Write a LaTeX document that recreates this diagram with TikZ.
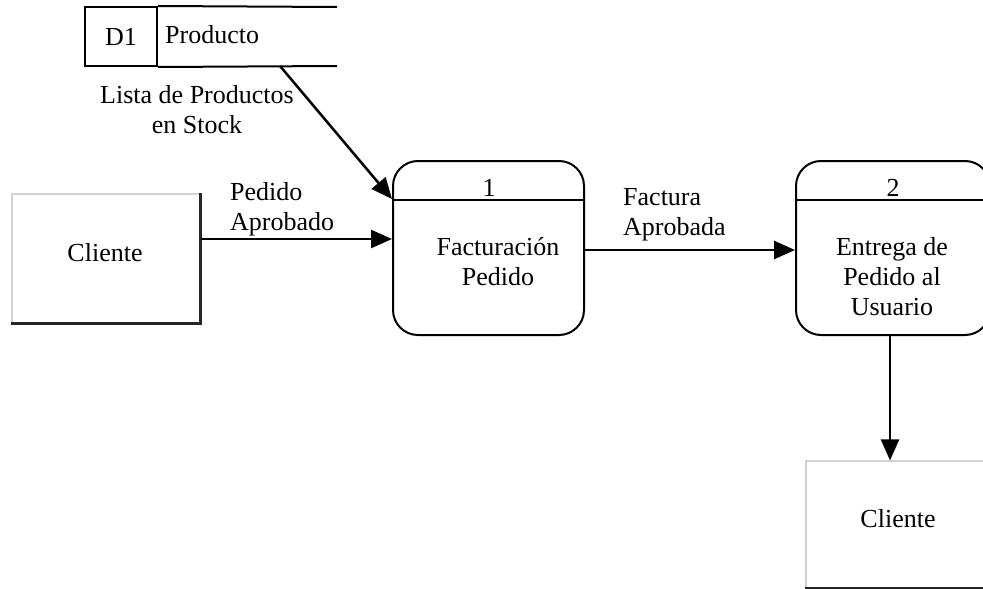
\documentclass[tikz,border=0pt]{standalone}
\usepackage{fontspec}
\setmainfont{Liberation Serif}
\usetikzlibrary{arrows.meta}
\begin{document}
\begin{tikzpicture}[x=1pt,y=-1pt,
  every node/.style={font=\fontsize{26}{30}\selectfont, inner sep=0pt},
  proc/.style={draw, line width=2pt, rounded corners=25pt, minimum height=174pt},
  entbox/.style={draw=gray!35, line width=1.2pt},
  shadowline/.style={draw=black!85, line width=2.6pt},
  storeline/.style={line width=2pt},
  flow/.style={line width=2.5pt, -{Triangle[length=21pt,width=18pt]}},
  lbl/.style={align=center}]
\useasboundingbox (0,0) rectangle (983,589);

% data store
\node[draw, storeline, minimum width=72pt, minimum height=59pt] (d1) at (121,36.5) {D1};
\coordinate (dsTR) at (337,7);
\coordinate (dsBR) at (337,66);
\draw[storeline] (d1.north east) -- (dsTR);
\draw[storeline] (d1.south east) -- (dsBR);
\node[anchor=west] (prod) at (165,35) {Producto};
\coordinate (dsout) at (280,66);
\node[lbl] (lista) at (197,110) {Lista de Productos\\en Stock};

% external entity Cliente (left)
\node[entbox, minimum width=188pt, minimum height=129pt] (c1) at (106,258.5) {};
\draw[shadowline] (c1.north east) -- (c1.south east) -- (c1.south west);
\node (c1t) at (105,253) {Cliente};

% process 1
\node[proc, minimum width=191pt] (p1) at (488.5,248) {};
\draw[line width=2pt] (p1.west |- 0,200) -- (p1.east |- 0,200);
\node (p1n) at (489,188) {1};
\node[lbl] (p1t) at (498,262) {Facturación\\Pedido};

% process 2
\node[proc, minimum width=194pt] (p2) at (893,248) {};
\draw[line width=2pt] (p2.west |- 0,200) -- (p2.east |- 0,200);
\node (p2n) at (893,188) {2};
\node[lbl] (p2t) at (892,277) {Entrega de\\Pedido al\\Usuario};

% external entity Cliente (bottom right)
\node[entbox, minimum width=184pt, minimum height=127pt] (c2) at (898,524.5) {};
\draw[shadowline] (c2.south west) -- (c2.south east);
\node (c2t) at (898,519) {Cliente};

% flows
\draw[flow] (dsout) -- (p1.west |- 0,199);
\draw[flow] (c1.east |- 0,239) -- (p1.west |- 0,239);
\node[anchor=west, align=left] (lpa) at (230,209) {Pedido\\Aprobado};
\draw[flow] (p1.east |- 0,250) -- (p2.west |- 0,250);
\node[anchor=west, align=left] (lfa) at (623,215) {Factura\\Aprobada};
\draw[flow] (p2.south -| 890,0) -- (c2.north -| 890,0);
\end{tikzpicture}
\end{document}
